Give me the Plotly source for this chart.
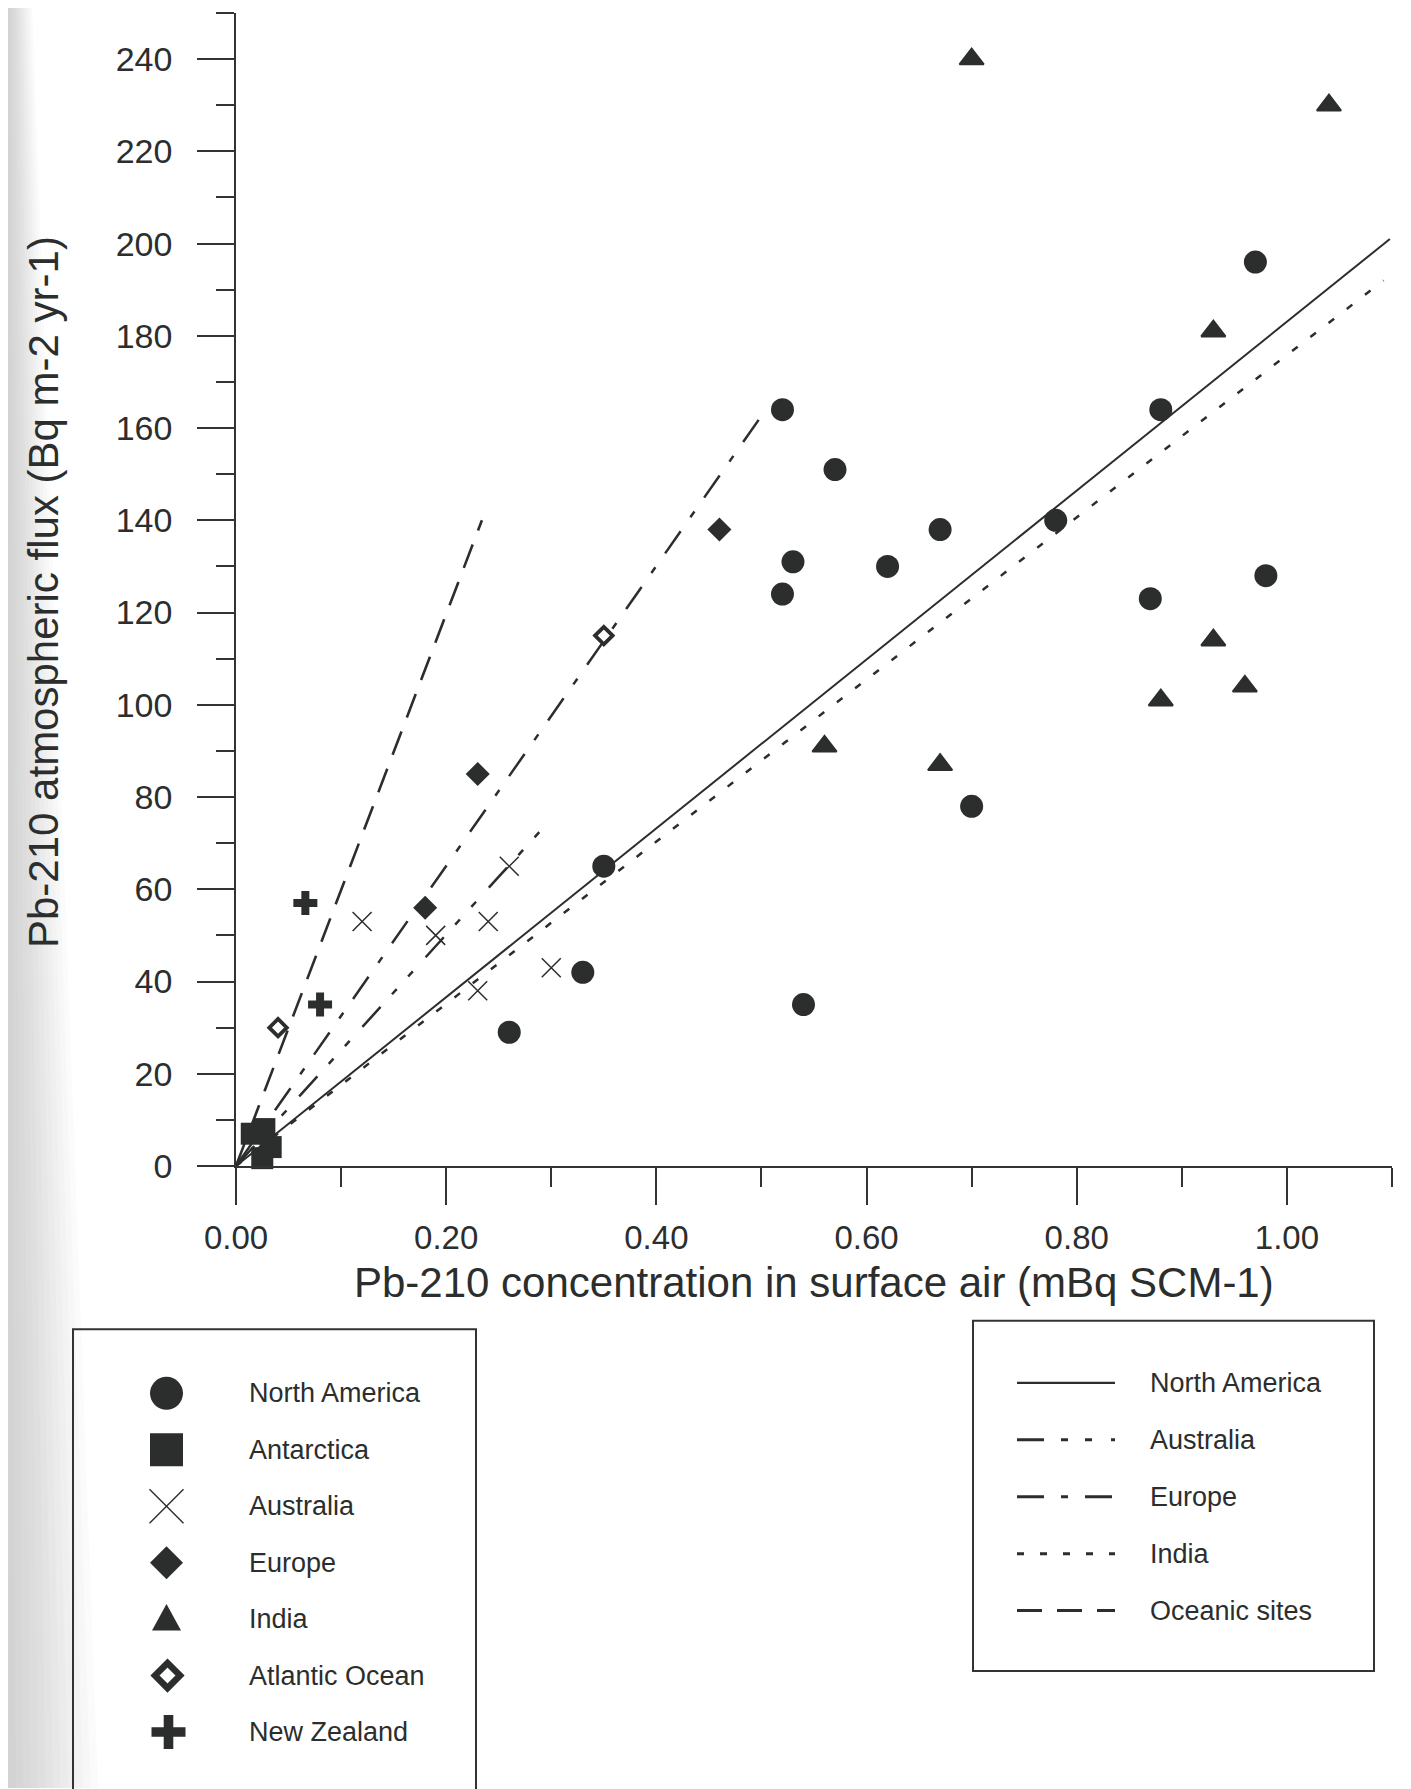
import plotly.graph_objects as go

# ---------------- data ----------------
na_x = [0.97, 0.52, 0.88, 0.57, 0.67, 0.78, 0.53, 0.62, 0.52, 0.87, 0.98, 0.70, 0.35, 0.33, 0.26, 0.54]
na_y = [196, 164, 164, 151, 138, 140, 131, 130, 124, 123, 128, 78, 65, 42, 29, 35]

ant_x = [0.015, 0.027, 0.033, 0.025]
ant_y = [7.0, 8.0, 4.1, 1.7]

aus_x = [0.12, 0.19, 0.24, 0.26, 0.30, 0.23]
aus_y = [53, 50, 53, 65, 43, 38]

eur_x = [0.46, 0.23, 0.18]
eur_y = [138, 85, 56]

ind_x = [0.70, 1.04, 0.93, 0.93, 0.96, 0.88, 0.56, 0.67]
ind_y = [240, 230, 181, 114, 104, 101, 91, 87]

atl_x = [0.35, 0.04]
atl_y = [115, 30]

nz_x = [0.066, 0.08]
nz_y = [57, 35]

# regression lines (start at origin, end point)
line_names = ["North America", "Australia", "Europe", "India", "Oceanic sites"]
line_x_end = [1.098, 0.299, 0.498, 1.092, 0.234]
line_y_end = [201, 75, 162, 192, 140]

marker_names = ["North America", "Antarctica", "Australia", "Europe", "India",
                "Atlantic Ocean", "New Zealand"]

x_tick_vals = [0.0, 0.2, 0.4, 0.6, 0.8, 1.0]
x_tick_text = ["0.00", "0.20", "0.40", "0.60", "0.80", "1.00"]
y_tick_vals = list(range(0, 241, 20))

x_title = "Pb-210 concentration in surface air (mBq SCM-1)"
y_title = "Pb-210 atmospheric flux (Bq m-2 yr-1)"

# ---------------- styling / geometry ----------------
W, H = 1411, 1789
OFF = 8                      # the page body has an 8px margin
SCR_L, SCR_R = 236, 1392     # screen pixel columns of x=0 and x=1.1
SCR_T, SCR_B = 12.5, 1166.5  # screen pixel rows of y=250 and y=0
ML = SCR_L - OFF
MR = W - (SCR_R - OFF)
MT = SCR_T - OFF
MB = H - (SCR_B - OFF)
PW = SCR_R - SCR_L
PH = SCR_B - SCR_T

INK = "#2b2e2d"
AX = "#333333"
FONT = "Liberation Sans, Arial, sans-serif"

dash_styles = {
    "North America": "solid",
    "Australia": "27px,17px,7px,17px,7px,19px",
    "Europe": "27px,17px,7px,17px",
    "India": "7px,16px",
    "Oceanic sites": "25px,15px",
}
line_widths = {"North America": 2.0, "Australia": 2.5, "Europe": 2.5,
               "India": 2.5, "Oceanic sites": 2.6}


def px(X, Y):
    """screen pixel position -> paper coordinates"""
    return (X - SCR_L) / PW, (SCR_B - Y) / PH


fig = go.Figure()

# regression lines
for name, xe, ye in zip(line_names, line_x_end, line_y_end):
    fig.add_trace(go.Scatter(
        x=[0, xe], y=[0, ye], mode="lines", name=name,
        line=dict(color=INK, width=line_widths[name], dash=dash_styles[name]),
        hoverinfo="skip", cliponaxis=False))

# data markers
fig.add_trace(go.Scatter(x=na_x, y=na_y, mode="markers", name="North America",
                         marker=dict(symbol="circle", size=23, color=INK), cliponaxis=False))
fig.add_trace(go.Scatter(x=ant_x, y=ant_y, mode="markers", name="Antarctica",
                         marker=dict(symbol="square", size=22, color=INK), cliponaxis=False))
fig.add_trace(go.Scatter(x=aus_x, y=aus_y, mode="markers", name="Australia",
                         marker=dict(symbol="x-thin-open", size=19, color=INK,
                                     line=dict(color=INK, width=1.5)), cliponaxis=False))
fig.add_trace(go.Scatter(x=eur_x, y=eur_y, mode="markers", name="Europe",
                         marker=dict(symbol="diamond", size=18.5, color=INK), cliponaxis=False))
fig.add_trace(go.Scatter(x=ind_x, y=ind_y, mode="markers", name="India",
                         marker=dict(symbol="triangle-up", size=21, color=INK,
                                     line=dict(color=INK, width=2)), cliponaxis=False))
fig.add_trace(go.Scatter(x=atl_x, y=atl_y, mode="markers", name="Atlantic Ocean",
                         marker=dict(symbol="diamond-open", size=13.5, color=INK,
                                     line=dict(color=INK, width=3.8)), cliponaxis=False))
fig.add_trace(go.Scatter(x=nz_x, y=nz_y, mode="markers", name="New Zealand",
                         marker=dict(symbol="cross", size=20, color=INK), cliponaxis=False))

shapes = []
annotations = []

# scanned-page shadow along the left edge
N_SH = 12
for i in range(1, N_SH + 1):
    wt = 24 * i / N_SH
    wb = 90 * i / N_SH
    pts = [px(OFF, 0), px(OFF + wt, 0), px(OFF + wb, H), px(OFF, H)]
    d = "M" + " L".join(f"{a},{b}" for a, b in pts) + " Z"
    shapes.append(dict(type="path", xref="paper", yref="paper", layer="below", path=d,
                       fillcolor="rgba(120,138,138,0.032)", line=dict(width=0)))


def rect_px(x0, y0, x1, y1, **kw):
    a0, b0 = px(x0, y0)
    a1, b1 = px(x1, y1)
    return dict(type="rect", xref="paper", yref="paper", x0=a0, y0=b0, x1=a1, y1=b1, **kw)


def path_px(points, closed=True, **kw):
    pts = [px(X, Y) for X, Y in points]
    d = "M" + " L".join(f"{a},{b}" for a, b in pts) + (" Z" if closed else "")
    return dict(type="path", xref="paper", yref="paper", path=d, **kw)


# ---------------- left legend (markers) ----------------
shapes.append(rect_px(73, 1330, 476, 1805, line=dict(color=AX, width=2), fillcolor="rgba(0,0,0,0)"))
row0, drow = 1394, 56.5
sym_x = 166.5
for i, name in enumerate(marker_names):
    cy = row0 + i * drow
    r = 16.5
    if name == "North America":
        a0, b0 = px(sym_x - r, cy - r)
        a1, b1 = px(sym_x + r, cy + r)
        shapes.append(dict(type="circle", xref="paper", yref="paper", x0=a0, y0=b0,
                           x1=a1, y1=b1, fillcolor=INK, line=dict(width=0)))
    elif name == "Antarctica":
        shapes.append(rect_px(sym_x - r, cy - r, sym_x + r, cy + r,
                              fillcolor=INK, line=dict(width=0)))
    elif name == "Australia":
        shapes.append(path_px([(sym_x - 17, cy - 17), (sym_x + 17, cy + 17)], closed=False,
                              line=dict(color=INK, width=1.5)))
        shapes.append(path_px([(sym_x - 17, cy + 17), (sym_x + 17, cy - 17)], closed=False,
                              line=dict(color=INK, width=1.5)))
    elif name == "Europe":
        shapes.append(path_px([(sym_x, cy - r), (sym_x + r, cy), (sym_x, cy + r), (sym_x - r, cy)],
                              fillcolor=INK, line=dict(width=0)))
    elif name == "India":
        shapes.append(path_px([(sym_x, cy - 15), (sym_x + 14.5, cy + 11.5), (sym_x - 14.5, cy + 11.5)],
                              fillcolor=INK, line=dict(width=0)))
    elif name == "Atlantic Ocean":
        rr = 12.5
        shapes.append(path_px([(sym_x + 1, cy - rr), (sym_x + 1 + rr, cy), (sym_x + 1, cy + rr),
                               (sym_x + 1 - rr, cy)],
                              fillcolor="white", line=dict(color=INK, width=6.5)))
    elif name == "New Zealand":
        a, t = 17, 4.8
        cx = sym_x + 2
        shapes.append(path_px([(cx - t, cy - a), (cx + t, cy - a), (cx + t, cy - t), (cx + a, cy - t),
                               (cx + a, cy + t), (cx + t, cy + t), (cx + t, cy + a), (cx - t, cy + a),
                               (cx - t, cy + t), (cx - a, cy + t), (cx - a, cy - t), (cx - t, cy - t)],
                              fillcolor=INK, line=dict(width=0)))
    tx, ty = px(247, cy)
    annotations.append(dict(x=tx, y=ty, xref="paper", yref="paper", text=name, showarrow=False,
                            xanchor="left", yanchor="middle",
                            font=dict(family=FONT, size=27, color=INK)))

# ---------------- right legend (lines) ----------------
shapes.append(rect_px(973, 1321.5, 1374, 1672, line=dict(color=AX, width=2), fillcolor="rgba(0,0,0,0)"))
lrow0, ldrow = 1383.5, 57
for i, name in enumerate(line_names):
    cy = lrow0 + i * ldrow
    a0, b0 = px(1017, cy)
    a1, b1 = px(1115, cy)
    shapes.append(dict(type="line", xref="paper", yref="paper", x0=a0, y0=b0, x1=a1, y1=b1,
                       line=dict(color=INK, width=3 if name != "North America" else 2.2,
                                 dash=dash_styles[name])))
    tx, ty = px(1148, cy)
    annotations.append(dict(x=tx, y=ty, xref="paper", yref="paper", text=name, showarrow=False,
                            xanchor="left", yanchor="middle",
                            font=dict(family=FONT, size=27, color=INK)))

# ---------------- axis titles ----------------
tx, ty = px(SCR_L + PW / 2, 1283)
annotations.append(dict(x=tx, y=ty, xref="paper", yref="paper", text=x_title, showarrow=False,
                        xanchor="center", yanchor="middle",
                        font=dict(family=FONT, size=42, color=INK)))
tx, ty = px(44, 592)
annotations.append(dict(x=tx, y=ty, xref="paper", yref="paper", text=y_title, showarrow=False,
                        xanchor="center", yanchor="middle", textangle=-90,
                        font=dict(family=FONT, size=42, color=INK)))

fig.update_layout(
    template="none",
    width=W, height=H,
    margin=dict(l=ML, r=MR, t=MT, b=MB, pad=0),
    paper_bgcolor="white", plot_bgcolor="rgba(0,0,0,0)",
    showlegend=False,
    shapes=shapes,
    annotations=annotations,
    xaxis=dict(range=[0, 1.1], tickvals=x_tick_vals, ticktext=x_tick_text,
               ticks="outside", ticklen=37, tickwidth=1.5, tickcolor=AX,
               showline=True, linecolor=AX, linewidth=1.5, showgrid=False, zeroline=False,
               minor=dict(dtick=0.1, tick0=0, ticks="outside", ticklen=19, tickwidth=1.5,
                          tickcolor=AX, showgrid=False),
               tickfont=dict(family=FONT, size=33, color=INK), ticklabelstandoff=5,
               automargin=False),
    yaxis=dict(range=[0, 250], tickvals=y_tick_vals,
               ticks="outside", ticklen=37, tickwidth=1.5, tickcolor=AX,
               showline=True, linecolor=AX, linewidth=1.5, showgrid=False, zeroline=False,
               minor=dict(dtick=10, tick0=0, ticks="outside", ticklen=18, tickwidth=1.5,
                          tickcolor=AX, showgrid=False),
               tickfont=dict(family=FONT, size=34, color=INK), ticklabelstandoff=18,
               automargin=False),
)

fig.write_html("out.html")
